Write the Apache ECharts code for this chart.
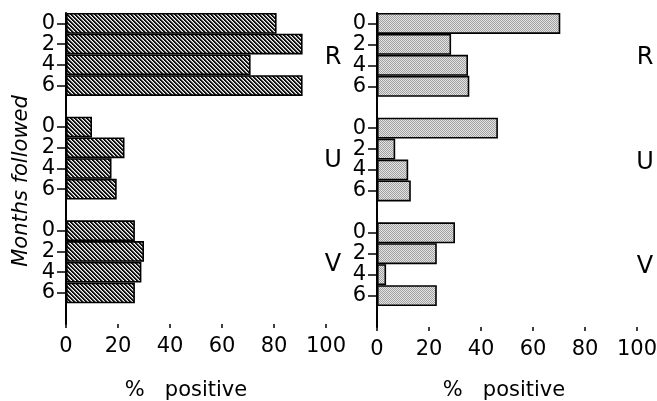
<!DOCTYPE html>
<html>
<head>
<meta charset="utf-8">
<script src="https://cdn.jsdelivr.net/npm/echarts@6/dist/echarts.min.js"></script>
<style>
html,body{margin:0;padding:0;background:#fff;}
#c{width:657px;height:401px;}
</style>
</head>
<body>
<div id="c"></div>
<script>
// ---- data ----
const months = ['0', '2', '4', '6'];
const groups = ['R', 'U', 'V'];
const leftR = [81, 91, 71, 91];
const leftU = [10, 22.5, 17.5, 19.5];
const leftV = [26.5, 30, 29, 26.5];
const rightR = [70.5, 28.5, 35, 35.5];
const rightU = [46.5, 7, 12, 13];
const rightV = [30, 23, 3.5, 23];
const xTicks = [0, 20, 40, 60, 80, 100];
const xTitle = '%   positive';
const yTitle = 'Months followed';

// ---- build categories (group + month, with a blank spacer after each group) ----
const categories = [];
groups.forEach(g => {
  months.forEach(m => categories.push(g + m));
  categories.push('gap' + g);
});
function buildSeries(byGroup) {
  const out = [];
  groups.forEach((g, gi) => {
    byGroup[gi].forEach(v => out.push(v));
    out.push(null);
  });
  return out;
}
const leftData = buildSeries([leftR, leftU, leftV]);
const rightData = buildSeries([rightR, rightU, rightV]);

// ---- patterns ----
function hatchPattern() {
  const c = document.createElement('canvas');
  c.width = 8; c.height = 8;
  const ctx = c.getContext('2d');
  const img = ctx.createImageData(8, 8);
  const shades = [10, 25, 150, 245];
  for (let y = 0; y < 8; y++) for (let x = 0; x < 8; x++) {
    const k = ((x - y) % 4 + 4) % 4;
    const v = shades[k];
    const i = (y * 8 + x) * 4;
    img.data[i] = img.data[i + 1] = img.data[i + 2] = v; img.data[i + 3] = 255;
  }
  ctx.putImageData(img, 0, 0);
  return c;
}
function stipplePattern() {
  const c = document.createElement('canvas');
  c.width = 4; c.height = 4;
  const ctx = c.getContext('2d');
  const img = ctx.createImageData(4, 4);
  for (let y = 0; y < 4; y++) for (let x = 0; x < 4; x++) {
    const v = ((x + y) % 2) ? 228 : 160;
    const i = (y * 4 + x) * 4;
    img.data[i] = img.data[i + 1] = img.data[i + 2] = v; img.data[i + 3] = 255;
  }
  ctx.putImageData(img, 0, 0);
  return c;
}

const FONT = 'DejaVu Sans';
function xAxisCfg(gridIndex, shift, gap) {
  return {
    gridIndex, type: 'value', min: xTicks[0], max: xTicks[xTicks.length - 1], interval: 20,
    splitLine: { show: false },
    axisLine: { lineStyle: { color: '#000', width: 2 } },
    axisTick: { show: true, length: 4, lineStyle: { color: '#000', width: 1.5 } },
    axisLabel: { color: '#000', fontSize: 21, fontFamily: FONT, margin: 12 },
    name: xTitle, nameLocation: 'middle', nameGap: gap,
    nameTextStyle: { color: '#000', fontSize: 21, fontFamily: FONT, padding: [0, shift, 0, 0] }
  };
}
function yAxisCfg(gridIndex) {
  return {
    gridIndex, type: 'category', data: categories, inverse: true,
    axisLine: { lineStyle: { color: '#000', width: 2 } },
    axisTick: { show: true, alignWithLabel: true, length: 9,
      interval: (i, v) => v.indexOf('gap') !== 0,
      lineStyle: { color: '#000', width: 1.5 } },
    axisLabel: { interval: 0, color: '#000', fontSize: 21, fontFamily: FONT, margin: 11,
      lineHeight: 21,
      formatter: v => v.indexOf('gap') === 0 ? '' : v.slice(1) }
  };
}
function barSeries(idx, data, pattern) {
  return {
    type: 'bar', xAxisIndex: idx, yAxisIndex: idx, data,
    barCategoryGap: '0%',
    itemStyle: { color: { image: pattern, repeat: 'repeat' }, borderColor: '#000', borderWidth: 1.6 },
    emphasis: { disabled: true }, animation: false
  };
}

const chart = echarts.init(document.getElementById('c'), null, { renderer: 'canvas' });
chart.setOption({
  animation: false,
  backgroundColor: '#fff',
  grid: [
    { left: 66, top: 13, width: 260, height: 311, containLabel: false, outerBoundsMode: 'none' },
    { left: 377, top: 13, width: 260, height: 314, containLabel: false, outerBoundsMode: 'none' }
  ],
  xAxis: [xAxisCfg(0, 20, 56), xAxisCfg(1, 6, 53)],
  yAxis: [yAxisCfg(0), yAxisCfg(1)],
  series: [barSeries(0, leftData, hatchPattern()), barSeries(1, rightData, stipplePattern())]
});

// group labels placed between the 2 and 4 month categories, computed from the axes
const graphics = [];
groups.forEach(g => {
  [[0, 333], [1, 645]].forEach(([ai, x]) => {
    const y1 = chart.convertToPixel({ yAxisIndex: ai }, g + '2');
    const y2 = chart.convertToPixel({ yAxisIndex: ai }, g + '4');
    graphics.push({
      type: 'text', x, y: (y1 + y2) / 2 + 3,
      style: { text: g, font: '24px "' + FONT + '"', fill: '#000', textAlign: 'center', textVerticalAlign: 'middle' }
    });
  });
});
graphics.push({
  type: 'text', x: 22, y: 181, rotation: Math.PI / 2,
  style: { text: yTitle, font: 'italic 21px "' + FONT + '"', fill: '#000', textAlign: 'center', textVerticalAlign: 'middle' }
});
chart.setOption({ graphic: graphics });
</script>
</body>
</html>
